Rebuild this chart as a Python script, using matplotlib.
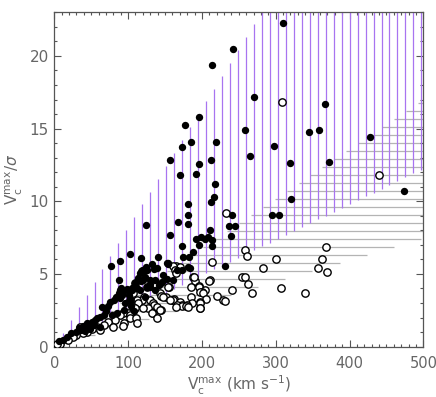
import numpy as np
import matplotlib
matplotlib.use("Agg")
import matplotlib.pyplot as plt
from matplotlib.ticker import MultipleLocator

# ---------------------------------------------------------------------------
# Data: (Vc_max, Vc_max / sigma)
# ---------------------------------------------------------------------------

filled_v = [
    309.9, 241.6, 213.4, 270.9, 366.4, 196.7, 177.3, 257.7, 359.1, 344.6,
    427.4, 185.8, 218.8, 298.1, 173.2, 265.6, 156.3, 212.5, 372.3, 319.8,
    195.7, 192.2, 170.9, 218.0, 473.5, 216.1, 321.2, 212.3, 180.8, 295.4,
    304.5, 240.8, 180.8, 167.2, 180.8, 123.8, 236.7, 244.4, 210.6, 156.4,
    239.8, 192.0, 198.8, 204.0, 208.6, 213.3, 214.1, 173.0, 195.7, 187.5,
    102.6, 140.1, 174.0, 182.1, 117.0, 89.0, 231.3, 76.8, 181.6, 124.3,
    132.0, 153.6, 152.3, 135.5, 172.6, 165.9, 123.8, 120.0,
    160.4, 152.3, 87.0, 113.4, 122.5, 109.8, 118.0, 130.0, 137.0, 144.0,
    145.9, 142.3, 130.0, 125.2, 106.6, 111.8, 90.5, 98.6, 104.9, 116.0,
    136.4, 93.0, 87.0, 84.0, 100.8, 123.0, 89.5, 80.5, 102.7, 76.0,
    72.3, 64.6, 104.6, 94.4, 85.4, 78.4, 67.4, 62.0, 55.0, 50.5,
    44.0, 54.0, 38.7, 62.0, 33.0, 48.8, 41.8, 28.8, 23.0, 17.5, 7.0,
    91.3, 104.9, 116.0, 120.6, 125.2, 129.7, 138.7, 147.7, 154.5, 183.9,
    89.0, 96.0, 108.0, 70.0, 58.0, 46.0, 36.0, 12.0,
]
filled_r = [
    22.24, 20.48, 19.36, 17.2, 16.7, 15.79, 15.26, 14.92, 14.9, 14.74,
    14.39, 14.1, 14.1, 13.8, 13.73, 13.11, 12.86, 12.81, 12.72, 12.66,
    12.54, 11.9, 11.83, 11.17, 10.73, 10.3, 10.14, 9.95, 9.84, 9.04,
    9.04, 9.02, 9.02, 8.58, 8.42, 8.35, 8.28, 8.28, 8.01, 7.69,
    7.6, 7.39, 7.55, 7.39, 7.55, 7.32, 6.91, 6.89, 7.0, 6.52,
    6.38, 6.13, 6.18, 6.13, 6.07, 5.88, 5.52, 5.56, 5.49, 5.49,
    5.67, 5.68, 5.72, 5.33, 5.26, 5.26, 5.26, 5.3,
    4.58, 4.67, 4.57, 4.7, 4.8, 4.4, 4.5, 4.6, 4.6, 4.35,
    4.46, 4.23, 4.3, 4.08, 4.0, 4.0, 4.0, 3.93, 4.01, 3.9,
    3.89, 3.77, 3.66, 3.43, 3.55, 3.43, 3.32, 3.2, 3.2, 3.1,
    2.8, 2.75, 2.8, 2.52, 2.29, 2.18, 2.18, 2.06, 1.83, 1.72,
    1.6, 1.49, 1.42, 1.37, 1.26, 1.19, 1.1, 1.03, 0.91, 0.69, 0.35,
    3.55, 3.89, 5.04, 4.58, 5.26, 4.12, 5.38, 4.92, 5.72, 5.38,
    3.89, 3.0, 2.45, 2.45, 2.0, 1.4, 1.15, 0.45,
]

open_v = [
    307.9, 440.2, 232.2, 368.2, 258.4, 261.6, 300.4, 363.2, 214.1, 283.3,
    357.9, 369.1, 254.0, 259.0, 263.0, 211.4, 240.8, 267.5, 307.2, 340.2,
    228.0, 230.9, 220.0,
    164.5, 170.3, 161.3, 163.6, 165.0, 119.3, 188.0, 190.0, 189.3, 210.0,
    109.0, 195.5, 185.2, 196.0, 156.0, 154.6, 125.0, 204.0, 199.7, 197.4,
    202.0, 143.2, 107.0, 185.6, 152.0, 145.0, 121.5, 147.7, 205.7, 162.0,
    118.4, 159.0, 161.3, 156.8, 129.7, 111.6, 102.6, 170.0, 197.4, 197.4,
    114.0, 134.2, 186.0, 135.0, 179.4, 172.6, 165.8, 173.6, 178.0, 181.0,
    164.7, 107.0, 138.7, 198.0, 127.4, 109.3, 120.6, 197.4, 144.0, 143.2,
    100.0, 133.3, 93.5, 132.0, 89.0, 102.6, 103.0, 111.0, 138.7, 82.0,
    73.3, 94.4, 112.6, 67.8, 93.5, 57.4, 34.8, 80.0, 50.6, 62.0,
    44.7, 39.3, 30.0, 25.0, 19.0, 8.0, 4.0,
]
open_r = [
    16.86, 11.78, 9.2, 6.82, 6.64, 6.25, 6.04, 6.02, 5.79, 5.4,
    5.38, 5.1, 4.76, 4.76, 4.32, 4.56, 3.87, 3.66, 4.01, 3.69,
    3.2, 3.16, 3.48,
    5.54, 5.49, 5.54, 5.26, 5.08, 5.2, 4.8, 4.53, 4.76, 4.53,
    4.35, 4.2, 4.12, 4.12, 4.12, 4.08, 4.08, 3.89, 3.78, 3.75,
    3.66, 3.66, 3.66, 3.43, 3.43, 3.48, 3.43, 3.43, 3.3, 3.3,
    3.2, 3.2, 3.2, 3.2, 3.2, 3.2, 3.2, 3.1, 3.09, 2.98,
    2.98, 2.98, 2.98, 2.87, 2.86, 2.86, 2.86, 2.8, 2.8, 2.75,
    2.75, 2.75, 2.75, 2.64, 2.64, 2.63, 2.63, 2.63, 2.52, 2.52,
    2.3, 2.29, 2.29, 2.29, 2.18, 2.18, 2.0, 1.95, 1.95, 1.83,
    1.72, 1.65, 1.6, 1.49, 1.42, 1.37, 1.37, 1.33, 1.19, 1.14,
    1.03, 0.91, 0.82, 0.64, 0.46, 0.19, 0.19,
]

# hatched regions, bounded by lines through the origin (ratio = slope * Vc)
purple_low, purple_high = 0.0245, 0.082
gray_left, gray_right = 0.034, 0.0149

XMAX, YMAX = 500, 23

# ---------------------------------------------------------------------------
# Plot
# ---------------------------------------------------------------------------

fig = plt.figure(figsize=(4.36, 3.97), dpi=100)
ax = fig.add_axes([0.1245, 0.127, 0.8465, 0.842])

# gray horizontal hatching
hy = np.arange(0.27, YMAX, 0.549)
hx0 = hy / gray_left
hx1 = np.minimum(hy / gray_right, XMAX)
keep = hx0 < hx1
ax.hlines(hy[keep], hx0[keep], hx1[keep], color="#b4b4b4", lw=0.9, zorder=1)

# purple vertical hatching
vx = np.arange(0.5, XMAX, 10.8)
ax.vlines(vx, purple_low * vx, np.minimum(purple_high * vx, YMAX),
          color="#a874f0", lw=0.9, zorder=2)

ax.scatter(open_v, open_r, s=28, facecolors="white", edgecolors="black",
           linewidths=1.0, zorder=3)
ax.scatter(filled_v, filled_r, s=28, color="black", linewidths=0, zorder=4)

ax.set_xlim(0, XMAX)
ax.set_ylim(0, YMAX)
ax.xaxis.set_major_locator(MultipleLocator(100))
ax.xaxis.set_minor_locator(MultipleLocator(10))
ax.yaxis.set_major_locator(MultipleLocator(5))
ax.yaxis.set_minor_locator(MultipleLocator(1))

axis_col = "#555555"
ax.tick_params(which="both", direction="in", top=True, right=True,
               color=axis_col, labelcolor="#666666", labelsize=11)
ax.tick_params(axis="x", pad=7, labelsize=10.5)
ax.tick_params(axis="y", pad=4)
ax.tick_params(which="major", length=5, width=0.8)
ax.tick_params(which="minor", length=2.5, width=0.8)
for sp in ax.spines.values():
    sp.set_color(axis_col)
    sp.set_linewidth(0.9)

ax.set_xlabel(r"V$_\mathrm{c}^\mathrm{max}$ (km s$^{-1}$)", fontsize=11,
              color="#666666", labelpad=2)
ax.set_ylabel(r"V$_\mathrm{c}^\mathrm{max}$/$\sigma$", fontsize=11,
              color="#666666", labelpad=3)

fig.savefig("out.png", dpi=100)
